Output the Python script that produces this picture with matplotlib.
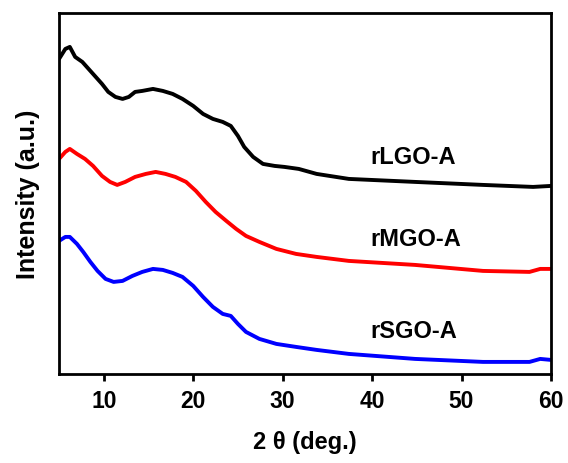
import matplotlib
matplotlib.use("Agg")
import matplotlib.pyplot as plt

# 2theta positions (deg.) and intensities (a.u., offset stacked)
x_lgo = [5.0, 5.7, 6.2, 6.8, 7.6, 8.3, 9.0, 9.8, 10.5, 11.3, 12.1, 12.8, 13.5, 14.3, 15.5, 16.6, 17.7,
         18.8, 20.0, 21.1, 22.2, 23.3, 24.2, 25.0, 25.7, 26.7, 27.8, 29.1, 30.2, 31.8, 33.8, 37.4,
         44.8, 52.4, 58.0, 60.0]
y_lgo = [315, 325, 327, 317, 312, 305, 298, 290, 282, 277, 275, 277, 282, 283, 285, 283, 280,
         275, 268, 260, 255, 252, 248, 238, 227, 217, 210, 208, 207, 205, 200, 195,
         192, 189, 187, 188]

x_mgo = [5.0, 5.7, 6.2, 7.0, 7.9, 8.8, 9.8, 10.7, 11.5, 12.4, 13.5, 14.7, 15.8, 16.9, 18.0, 19.2,
         20.3, 21.4, 22.5, 23.7, 24.8, 25.9, 27.4, 29.3, 31.5, 33.8, 37.4, 44.8, 52.4, 57.6, 58.8, 60.0]
y_mgo = [215, 222, 225, 220, 215, 208, 198, 192, 189, 192, 197, 200, 202, 200, 197, 192,
         183, 172, 162, 153, 145, 138, 132, 125, 120, 117, 113, 109, 103, 102, 105, 105]

x_sgo = [5.0, 5.7, 6.2, 7.0, 7.7, 8.5, 9.3, 10.2, 11.1, 12.1, 13.2, 14.3, 15.5, 16.6, 17.7, 18.8,
         20.0, 21.1, 22.2, 23.3, 24.2, 25.0, 25.9, 27.4, 29.3, 31.5, 33.8, 37.4, 44.8, 52.4, 57.6,
         58.8, 60.0]
y_sgo = [133, 137, 137, 130, 122, 112, 103, 95, 92, 93, 98, 102, 105, 104, 101, 97,
         88, 77, 67, 60, 58, 50, 42, 35, 30, 27, 24, 20, 15, 12, 12,
         15, 14]

series_names = ["rLGO-A", "rMGO-A", "rSGO-A"]
series_colors = ["#000000", "#ff0000", "#0000ff"]
label_y = [217, 135, 43]
xticks = [10, 20, 30, 40, 50, 60]

plt.rcParams['font.family'] = ['Liberation Sans', 'DejaVu Sans']
fig = plt.figure(figsize=(5.68, 4.64), dpi=100)
ax = fig.add_axes([0.104, 0.192, 0.866, 0.778])

for xs, ys, c in zip([x_lgo, x_mgo, x_sgo], [y_lgo, y_mgo, y_sgo], series_colors):
    ax.plot(xs, ys, color=c, lw=2.8, solid_joinstyle='round', solid_capstyle='round')

for name, ly in zip(series_names, label_y):
    ax.text(39.8, ly, name, fontsize=17, fontweight='bold', ha='left', va='center')

ax.set_xlim(5, 60)
ax.set_ylim(0, 361)
ax.set_xticks(xticks)
ax.set_xticklabels([str(t) for t in xticks], fontsize=16.5, fontweight='bold')
ax.set_yticks([])
ax.tick_params(axis='x', direction='out', length=5, width=2, pad=6)
for s in ax.spines.values():
    s.set_linewidth(2)
ax.set_xlabel("2 θ (deg.)", fontsize=17, fontweight='bold', labelpad=13)
ax.set_ylabel("Intensity (a.u.)", fontsize=18, fontweight='bold', labelpad=14)

fig.savefig("out.png", dpi=100)
